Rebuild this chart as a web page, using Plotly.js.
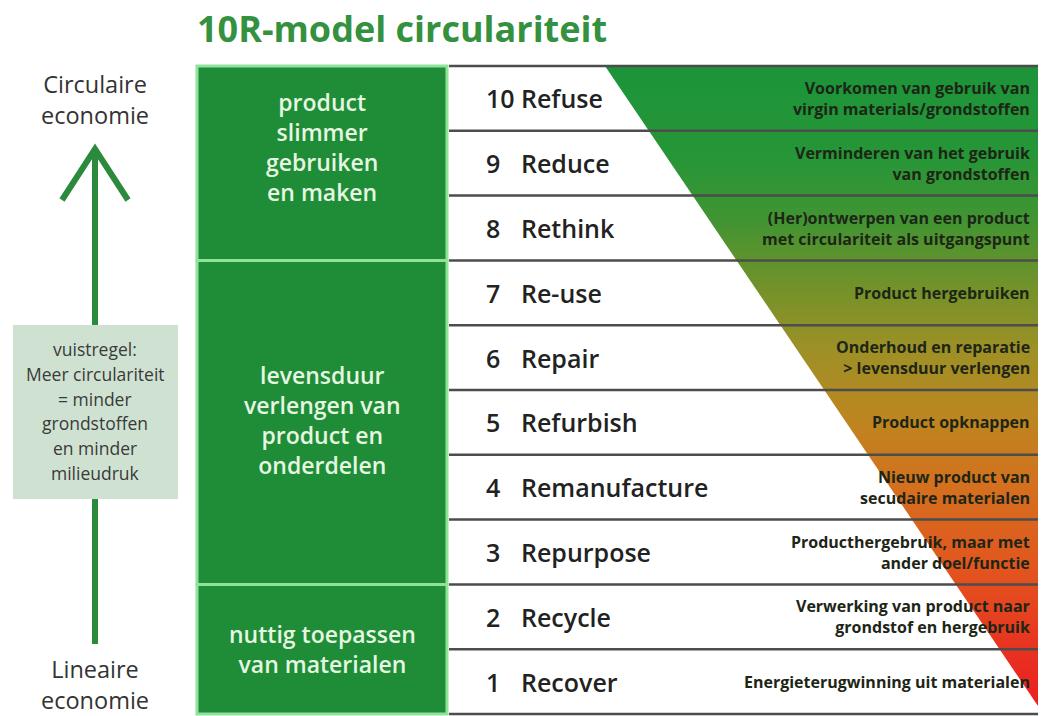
<!DOCTYPE html>
<html><head><meta charset="utf-8">
<script src="https://cdn.plot.ly/plotly-3.0.1.min.js"></script>
<style>html,body{margin:0;padding:0;background:#fff;}#chart{width:1041px;height:716px;}</style>
</head><body><div id="chart"></div>
<script>
// ---------- data ----------
const titleText = '10R-model circulariteit';
const rowNumbers = [10, 9, 8, 7, 6, 5, 4, 3, 2, 1];
const rowLabels = ['Refuse', 'Reduce', 'Rethink', 'Re-use', 'Repair', 'Refurbish', 'Remanufacture', 'Repurpose', 'Recycle', 'Recover'];
const rowDescriptions = [
  'Voorkomen van gebruik van<br>virgin materials/grondstoffen',
  'Verminderen van het gebruik<br>van grondstoffen',
  '(Her)ontwerpen van een product<br>met circulariteit als uitgangspunt',
  'Product hergebruiken',
  'Onderhoud en reparatie<br>&gt; levensduur verlengen',
  'Product opknappen',
  'Nieuw product van<br>secudaire materialen',
  'Producthergebruik, maar met<br>ander doel/functie',
  'Verwerking van product naar<br>grondstof en hergebruik',
  'Energieterugwinning uit materialen'
];
const groupLabels = ['product<br>slimmer<br>gebruiken<br>en maken', 'levensduur<br>verlengen van<br>product en<br>onderdelen', 'nuttig toepassen<br>van materialen'];
const groupTopRow = [10, 7, 2];
const groupBottomRow = [8, 3, 1];
const topLabel = 'Circulaire<br>economie';
const bottomLabel = 'Lineaire<br>economie';
const ruleLines = ['vuistregel:', 'Meer circulariteit', '= minder', 'grondstoffen', 'en minder', 'milieudruk'];

// ---------- layout / style ----------
const W = 1041, H = 716;
const FONT = 'Open Sans, sans-serif';
const ROW_PX = 64.8, TABLE_BOTTOM_PX = 714;
const v = p => (TABLE_BOTTOM_PX - p) / ROW_PX;   // pixel -> row units
const py = p => 1 - p / H;                         // pixel -> paper
const groupLabelShift = [0.25, 0.03, 0.0];
const TABLE_X0 = 449, TABLE_X1 = 1038, BLOCK_X0 = 197, BLOCK_X1 = 447;
const GRAD_X_TOP = 605, GRAD_BOTTOM_PX = 706;
const gradientScale = [
  [0.00, 'rgb(236,28,36)'],
  [0.10, 'rgb(232,50,32)'],
  [0.22, 'rgb(226,84,30)'],
  [0.35, 'rgb(212,112,30)'],
  [0.46, 'rgb(188,134,32)'],
  [0.56, 'rgb(158,144,38)'],
  [0.66, 'rgb(114,146,42)'],
  [0.76, 'rgb(66,148,50)'],
  [0.86, 'rgb(38,150,55)'],
  [1.00, 'rgb(28,148,58)']
];

const shapes = [];
const annotations = [];

// white rows
rowNumbers.forEach(n => {
  shapes.push({type: 'rect', xref: 'x', yref: 'y', x0: TABLE_X0, x1: TABLE_X1, y0: n - 1, y1: n,
    fillcolor: '#ffffff', line: {width: 0}, layer: 'below'});
});
// row separators (above gradient)
for (let k = 0; k <= rowNumbers.length; k++) {
  shapes.push({type: 'line', xref: 'x', yref: 'y', x0: TABLE_X0, x1: TABLE_X1, y0: k, y1: k,
    line: {color: '#4d4d4d', width: 2.5}, layer: 'above'});
}
// group blocks
groupLabels.forEach((g, i) => {
  shapes.push({type: 'rect', xref: 'x', yref: 'y', x0: BLOCK_X0, x1: BLOCK_X1,
    y0: groupBottomRow[i] - 1, y1: groupTopRow[i],
    fillcolor: '#1f8c37', line: {color: '#8fe39c', width: 3}, layer: 'above'});
  annotations.push({xref: 'x', yref: 'y', x: (BLOCK_X0 + BLOCK_X1) / 2,
    y: (groupBottomRow[i] - 1 + groupTopRow[i]) / 2 + groupLabelShift[i],
    text: g, showarrow: false, xanchor: 'center', yanchor: 'middle', align: 'center',
    font: {family: FONT, size: 23, color: '#e6f7e1', weight: 600}});
});
// row texts
rowNumbers.forEach((n, i) => {
  annotations.push({xref: 'x', yref: 'y', x: 484, y: n - 0.5, text: String(n), showarrow: false,
    xanchor: 'left', yanchor: 'middle', font: {family: FONT, size: 25, color: '#222', weight: 600}});
  annotations.push({xref: 'x', yref: 'y', x: 519, y: n - 0.5, text: rowLabels[i], showarrow: false,
    xanchor: 'left', yanchor: 'middle', font: {family: FONT, size: 25, color: '#222', weight: 600}});
  annotations.push({xref: 'x', yref: 'y', x: 1032, y: n - 0.5, text: rowDescriptions[i], showarrow: false,
    xanchor: 'right', yanchor: 'middle', align: 'right',
    font: {family: FONT, size: 16, color: '#1d2616', weight: 700}});
});

// left decorations
const ARROW_C = '#2b8a3c';
shapes.push({type: 'line', xref: 'x', yref: 'paper', x0: 95, x1: 95, y0: py(150), y1: py(325), line: {color: ARROW_C, width: 6}});
shapes.push({type: 'line', xref: 'x', yref: 'paper', x0: 95, x1: 95, y0: py(499), y1: py(644), line: {color: ARROW_C, width: 6}});
shapes.push({type: 'path', xref: 'x', yref: 'paper',
  path: `M 62 ${py(200)} L 95 ${py(149)} L 128 ${py(200)}`, line: {color: ARROW_C, width: 6}});
shapes.push({type: 'rect', xref: 'x', yref: 'paper', x0: 13, x1: 178, y0: py(499), y1: py(325),
  fillcolor: '#cfe2d1', line: {width: 0}});
ruleLines.forEach((t, i) => {
  annotations.push({xref: 'x', yref: 'paper', x: 95, y: py(349 + i * 24.8), text: t, showarrow: false,
    xanchor: 'center', yanchor: 'middle', font: {family: FONT, size: 17.5, color: '#3a3a3a'}});
});
annotations.push({xref: 'x', yref: 'paper', x: 95, y: py(99), text: topLabel, showarrow: false,
  xanchor: 'center', yanchor: 'middle', font: {family: FONT, size: 23.5, color: '#333'}});
annotations.push({xref: 'x', yref: 'paper', x: 95, y: py(684), text: bottomLabel, showarrow: false,
  xanchor: 'center', yanchor: 'middle', font: {family: FONT, size: 23.5, color: '#333'}});

// gradient triangle
const traces = [{
  type: 'scatter', mode: 'lines',
  x: [GRAD_X_TOP, TABLE_X1, TABLE_X1, GRAD_X_TOP],
  y: [rowNumbers[0], rowNumbers[0], v(GRAD_BOTTOM_PX), rowNumbers[0]],
  fill: 'toself', line: {width: 0, color: 'rgba(0,0,0,0)'},
  fillgradient: {type: 'vertical', start: 0, stop: 10, colorscale: gradientScale},
  hoverinfo: 'skip', showlegend: false
}];

const layout = {
  width: W, height: H,
  margin: {l: 0, r: 0, t: 0, b: 0},
  paper_bgcolor: '#ffffff', plot_bgcolor: '#ffffff',
  title: {text: titleText, xref: 'container', yref: 'container', x: 197 / W, xanchor: 'left',
    y: py(29), yanchor: 'middle', font: {family: FONT, size: 36, color: '#34913f', weight: 700}},
  xaxis: {range: [0, W], visible: false, fixedrange: true},
  yaxis: {range: [v(H), v(0)], visible: false, fixedrange: true},
  shapes: shapes, annotations: annotations, showlegend: false
};
Plotly.newPlot('chart', traces, layout, {staticPlot: true});
</script></body></html>
